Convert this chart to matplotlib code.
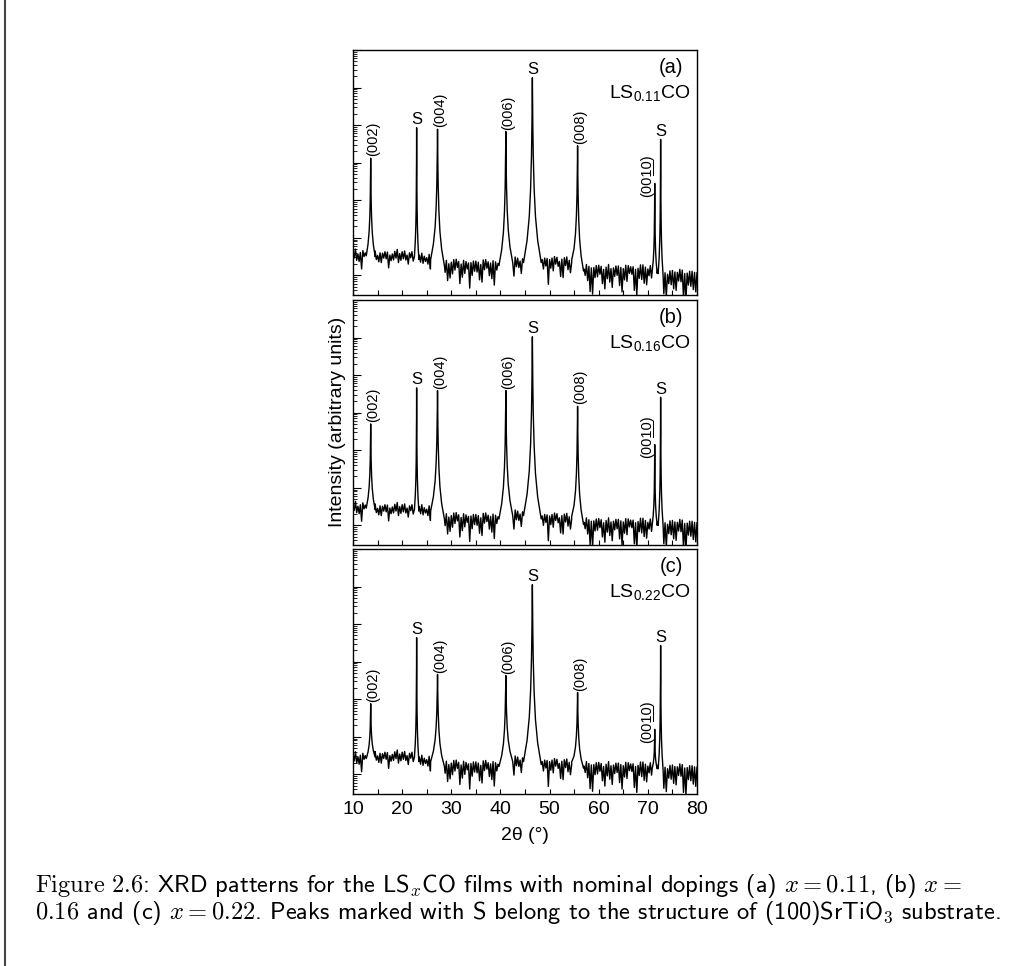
import numpy as np
import matplotlib
matplotlib.use('Agg')
import matplotlib.pyplot as plt
from matplotlib.lines import Line2D
from matplotlib.transforms import IdentityTransform
from matplotlib.ticker import LogLocator, NullFormatter, MultipleLocator

plt.rcParams['font.family'] = ['Liberation Sans', 'DejaVu Sans']
plt.rcParams['mathtext.fontset'] = 'custom'
plt.rcParams['mathtext.rm'] = 'Liberation Sans'
plt.rcParams['mathtext.it'] = 'Liberation Sans:italic'
plt.rcParams['mathtext.bf'] = 'Liberation Sans:bold'

#************************data************************#
peak_pos = [13.6, 22.95, 27.2, 41.1, 46.5, 55.7, 71.4, 72.6]
peak_label = ['(002)', 'S', '(004)', '(006)', 'S', '(008)', '(0010)', 'S']
peak_halfwidth = [0.9, 0.45, 1.4, 1.4, 1.8, 1.2, 0.5, 0.5]   # half width of the foot, deg

panel_tag = ['(a)', '(b)', '(c)']
panel_dop = ['0.11', '0.16', '0.22']

# log10 of peak tops (1 decade ~ 37 px)
top_a = [4.12, 4.93, 4.89, 4.83, 6.26, 4.45, 3.45, 4.62]
top_b = [3.70, 4.66, 4.59, 4.59, 6.02, 4.17, 3.15, 4.41]
top_c = [2.88, 4.64, 3.66, 3.63, 6.05, 3.18, 2.20, 4.43]

# log10 background level between peaks (before 002, ..., after S 72.6)
base_a = [1.52, 1.50, 1.42, 1.26, 1.34, 1.34, 1.12, 1.05, 1.00]
base_b = [1.46, 1.42, 1.38, 1.17, 1.26, 1.17, 1.03, 1.00, 1.00]
base_c = [1.42, 1.46, 1.34, 1.21, 1.34, 1.26, 1.17, 1.15, 1.12]

# background scatter (log10 offsets), one value every 0.25 deg from 10 to 80
scan_x = np.arange(10.0, 80.001, 0.25)
noise = [0.10, -0.06, 0.18, -0.12, 0.05, -0.15, 0.09, -0.35, 0.14, -0.02,
         0.08, -0.11, 0.02, -0.20, 0.12, -0.22, 0.07, -0.05, 0.15, -0.08,
         0.03, -0.14, 0.10, -0.16, 0.09, -0.04, 0.13, -0.06, 0.12, -0.30,
         0.04, -0.11, 0.07, -0.09, 0.14, -0.04, 0.19, -0.16, 0.08, -0.10,
         0.13, -0.06, 0.15, -0.09, 0.04, -0.20, 0.10, -0.03, 0.13, -0.12,
         0.06, -0.15, 0.08, -0.42, 0.12, -0.07, 0.17, -0.10, 0.09, -0.05,
         0.05, -0.12, 0.14, -0.25, 0.12, -0.06, 0.17, -0.07, 0.10, -0.28,
         0.08, -0.55, 0.06, -0.10, 0.13, -0.18, 0.14, -0.40, 0.05, -0.33,
         0.09, -0.22, 0.16, -0.12, 0.17, -0.05, 0.11, -0.48, 0.04, -0.31,
         0.14, -0.21, 0.11, -0.09, 0.07, -0.60, 0.08, -0.26, 0.12, -0.15,
         0.12, -0.17, 0.09, -0.38, 0.03, -0.44, 0.15, -0.11, 0.16, -0.07,
         0.10, -0.27, 0.07, -0.35, 0.13, -0.52, 0.10, -0.12, 0.06, -0.09,
         0.06, -0.14, 0.11, -0.20, 0.13, -0.08, 0.16, -0.05, 0.09, -0.23,
         0.05, -0.36, 0.15, -0.11, 0.12, -0.13, 0.04, -0.29, 0.10, -0.24,
         0.11, -0.06, 0.13, -0.08, 0.07, -0.21, 0.09, -0.30, 0.14, -0.12,
         0.16, -0.45, 0.05, -0.33, 0.08, -0.17, 0.12, -0.09, 0.11, -0.58,
         0.08, -0.15, 0.12, -0.22, 0.16, -0.04, 0.14, -0.10, 0.03, -0.37,
         0.09, -0.40, 0.13, -0.08, 0.15, -0.19, 0.06, -0.27, 0.07, -0.31,
         0.10, -0.20, 0.11, -0.14, 0.18, -0.42, 0.06, -0.50, 0.05, -0.12,
         0.17, -0.26, 0.12, -0.55, 0.08, -0.62, 0.09, -0.18, 0.14, -0.16,
         0.15, -0.09, 0.12, -0.34, 0.04, -0.48, 0.10, -0.21, 0.17, -0.30,
         0.06, -0.44, 0.08, -0.15, 0.13, -0.12, 0.13, -0.39, 0.09, -0.56,
         0.06, -0.24, 0.15, -0.28, 0.14, -0.07, 0.11, -0.09, 0.11, -0.52,
         0.04, -0.65, 0.07, -0.20, 0.16, -0.23, 0.16, -0.33, 0.10, -0.37,
         0.05, -0.13, 0.14, -0.19, 0.12, -0.41, 0.08, -0.47, 0.09, -0.10,
         0.13, -0.14, 0.15, -0.49, 0.07, -0.58, 0.03, -0.22, 0.12, -0.25,
         0.13, -0.36, 0.09, -0.40, 0.08, -0.15, 0.16, -0.17, 0.14, -0.60,
         0.05, -0.66, 0.06, -0.26, 0.11, -0.29, 0.11, -0.38, 0.08, -0.44,
         0.07]

# spike profile: distance from centre (in half widths), fraction of height
shape_dx = [0.0, 0.02, 0.05, 0.1, 0.2, 0.35, 0.6, 1.0]
shape_f = [1.0, 0.88, 0.74, 0.58, 0.40, 0.25, 0.12, 0.0]

tops = [top_a, top_b, top_c]
bases = [base_a, base_b, base_c]


#************************trace************************#
def build_trace(top, base):
    xs, ys = [], []
    seg = np.searchsorted(peak_pos, scan_x)
    for x, n, s in zip(scan_x, noise, seg):
        inside = False
        for p, w in zip(peak_pos, peak_halfwidth):
            if abs(x - p) < w:
                inside = True
        if not inside:
            xs.append(x)
            ys.append(base[s] + n)
    for i in range(len(peak_pos)):
        p, w, t = peak_pos[i], peak_halfwidth[i], top[i]
        for dx, f in zip(shape_dx, shape_f):
            xs.append(p - dx * w)
            ys.append(base[i] + (t - base[i]) * f)
            if dx > 0:
                xs.append(p + dx * w)
                ys.append(base[i + 1] + (t - base[i + 1]) * f)
    order = np.argsort(xs)
    return np.array(xs)[order], 10 ** np.array(ys)[order]


#************************figure************************#
W, H = 1017, 966
fig = plt.figure(figsize=(W / 100, H / 100), dpi=100)

ax_left, ax_w, ax_h = 353 / W, 344 / W, 245 / H
panel_top = [50, 300, 549]
axes = []
for k in range(3):
    ax = fig.add_axes([ax_left, 1 - (panel_top[k] + 245) / H, ax_w, ax_h])
    axes.append(ax)

    x, y = build_trace(tops[k], bases[k])
    ax.plot(x, y, color='black', lw=1.0)
    ax.set_yscale('log')
    ax.set_xlim(10, 80)
    ax.set_ylim(3, 1e7)

    ax.yaxis.set_major_locator(LogLocator(base=10, numticks=20))
    ax.yaxis.set_minor_locator(LogLocator(base=10, subs=np.arange(2, 10), numticks=100))
    ax.yaxis.set_major_formatter(NullFormatter())
    ax.yaxis.set_minor_formatter(NullFormatter())
    ax.xaxis.set_major_locator(MultipleLocator(10))
    ax.xaxis.set_minor_locator(MultipleLocator(5))
    ax.tick_params(axis='y', which='major', direction='in', length=5.5, width=0.8)
    ax.tick_params(axis='y', which='minor', direction='in', length=2.8, width=0.6)
    ax.tick_params(axis='x', which='both', direction='in', length=3.5, width=0.8,
                   labelsize=14, pad=5)
    ax.tick_params(top=False, right=False)
    if k < 2:
        ax.tick_params(axis='x', labelbottom=False)
    for sp in ax.spines.values():
        sp.set_linewidth(1.0)

    # peak labels
    for i in range(len(peak_pos)):
        p, t, lab = peak_pos[i], tops[k][i], peak_label[i]
        if lab == 'S':
            ax.text(p, 10 ** (t + 0.02), 'S', ha='center', va='bottom', fontsize=12)
        elif lab == '(0010)':
            ax.text(p - 0.8, 10 ** (t + 0.2), lab, rotation=90, rotation_mode='anchor',
                    ha='center', va='baseline', fontsize=10.5)
            # underline below "10"
            X, Y = ax.transData.transform((p - 0.8, 10 ** (t + 0.2)))
            em = 10.5 * 100 / 72
            fig.add_artist(Line2D([X + 0.12 * em, X + 0.12 * em], [Y + 0.03 * em, Y + 1.09 * em],
                                  transform=IdentityTransform(), color='black', lw=0.7))
        else:
            ax.text(p + 0.45, 10 ** (t + 0.05), lab, rotation=90, rotation_mode='anchor',
                    ha='left', va='center', fontsize=10.5)

    ax.text(0.959, 0.967, panel_tag[k], transform=ax.transAxes, ha='right', va='top',
            fontsize=14.5)
    ax.text(0.98, 0.804, 'LS$_{' + panel_dop[k] + '}$CO', transform=ax.transAxes,
            ha='right', va='baseline', fontsize=14)

fig.text(337 / W, 1 - 422 / H, 'Intensity (arbitrary units)', rotation=90,
         ha='center', va='center', fontsize=14)
fig.text(525 / W, 1 - 835 / H, '2\u03b8 (\u00b0)', ha='center', va='center', fontsize=14)

#************************caption************************#
cap1 = (r'$\mathrm{Figure\ 2.6}$: XRD patterns for the LS$_x$CO films with nominal '
        r'dopings (a) $x = 0.11$, (b) $x =$')
cap2 = (r'$0.16$ and (c) $x = 0.22$. Peaks marked with S belong to the structure of '
        r'(100)SrTiO$_3$ substrate.')
fig.text(35 / W, 1 - 892 / H, cap1, family='cmss10', math_fontfamily='cm',
         fontsize=17.6, va='baseline', ha='left')
fig.text(35 / W, 1 - 919 / H, cap2, family='cmss10', math_fontfamily='cm',
         fontsize=17.6, va='baseline', ha='left')

# page frame on the left
fig.add_artist(Line2D([5 / W, 5 / W], [0, 1], transform=fig.transFigure,
                      color='#444444', lw=1.5))

fig.savefig('out.png', dpi=100)
